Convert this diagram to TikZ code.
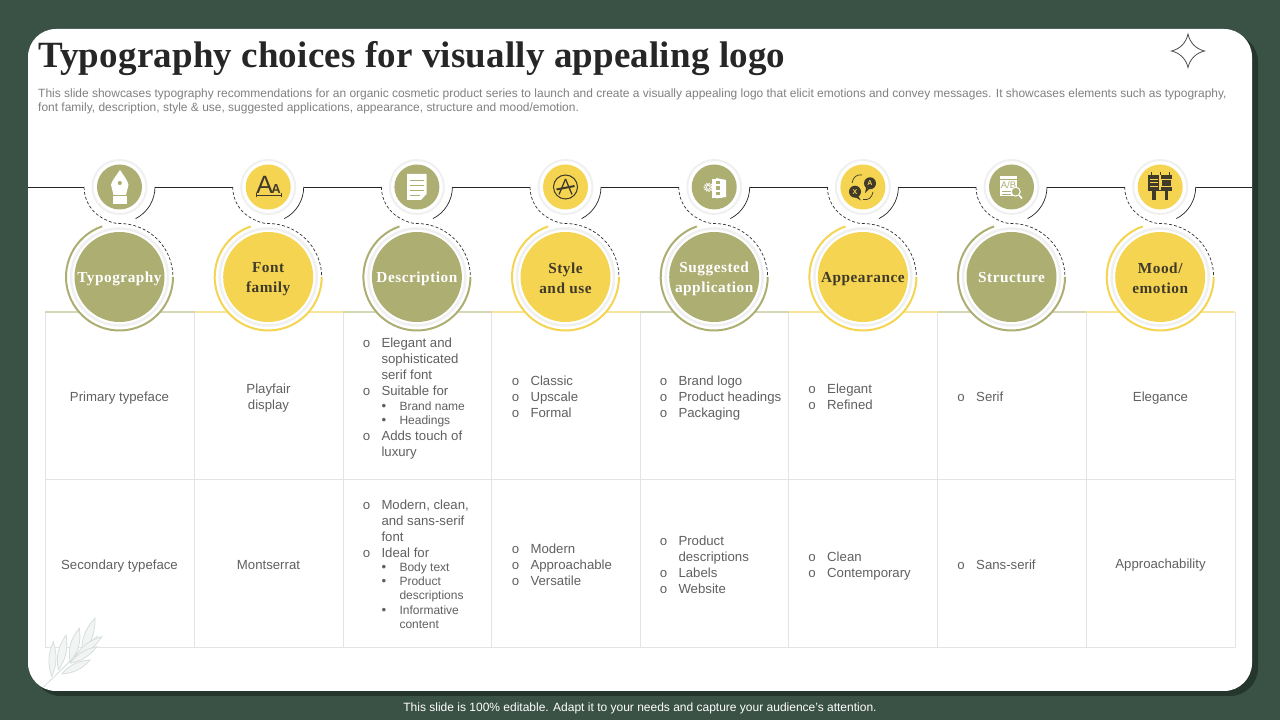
\documentclass[tikz,border=0pt]{standalone}
\usepackage{fontspec}
\setmainfont{Liberation Sans}
\newfontfamily\headfont[LetterSpace=3.4]{Liberation Serif}
\newfontfamily\titlefont[LetterSpace=0.45]{Liberation Serif}
\newfontfamily\markfont{Liberation Mono}
\definecolor{slidegreen}{HTML}{3A5145}
\definecolor{shadowgreen}{HTML}{25362D}
\definecolor{olive}{HTML}{ADAE72}
\definecolor{sun}{HTML}{F5D451}
\definecolor{inkdark}{HTML}{3F3A2A}
\definecolor{bodygray}{HTML}{606060}
\definecolor{leafgray}{HTML}{D5DFDC}
\newcommand{\lone}[1]{\makebox[19pt][l]{\markfont o}#1}
\newcommand{\lmore}[1]{\hspace*{19pt}#1}
\newcommand{\lsub}[1]{\hspace*{19pt}\makebox[18pt][l]{\textbullet}{\fontsize{12}{14}\selectfont #1}}
\newcommand{\lsubmore}[1]{\hspace*{37pt}{\fontsize{12}{14}\selectfont #1}}
\tikzset{
	basecirc/.style={circle, fill=white, inner sep=0pt, outer sep=0pt, minimum size=107pt},
	ringbig/.style={circle, draw=black!6, line width=2.5pt, fill=white, inner sep=0pt, minimum size=97pt},
	headolive/.style={circle, fill=olive, inner sep=0pt, minimum size=90pt},
	headsun/.style={circle, fill=sun, inner sep=0pt, minimum size=90pt},
	oliveword/.style={text=white, inner sep=0pt, yshift=-1.7pt, align=center, font=\headfont\bfseries\fontsize{15.3}{20}\selectfont},
	sunword/.style={text=inkdark, inner sep=0pt, yshift=-1.7pt, align=center, font=\headfont\bfseries\fontsize{15.3}{20}\selectfont},
	ringsmall/.style={circle, draw=black!6, line width=2pt, fill=white, inner sep=0pt, minimum size=54pt},
	iconolive/.style={circle, fill=olive, inner sep=0pt, minimum size=45pt},
	iconsun/.style={circle, fill=sun, inner sep=0pt, minimum size=45pt},
	halo/.style={circle, inner sep=0pt, outer sep=0pt, minimum size=71pt},
	blackline/.style={draw=black!85, line width=0.7pt},
	dashrun/.style={draw=black!80, line width=0.7pt, dash pattern=on 3pt off 2pt},
	loopback/.style={insert path={arc[start angle=180, end angle=243, radius=35.5] .. controls +(6,-3) and +(-6,0) .. ++(16.1,-4.9) arc[start angle=90, end angle=0, radius=53.5]}},
	arcolive/.style={draw=olive, line width=2pt},
	arcsun/.style={draw=sun, line width=2pt},
	gridline/.style={draw=black!11, line width=1pt},
	topolive/.style={draw=olive!50, line width=2pt},
	topsun/.style={draw=sun!60, line width=2pt},
	celltext/.style={text=bodygray, align=center, font=\fontsize{13.2}{16}\selectfont},
	listtext/.style={text=bodygray, align=left, anchor=west, inner sep=0pt, font=\fontsize{13.2}{16}\selectfont},
	leafline/.style={draw=leafgray, fill=leafgray!30, line width=0.8pt},
	whiteicon/.style={fill=white, draw=none},
	darkicon/.style={fill=inkdark, draw=none},
}
\begin{document}
\begin{tikzpicture}[x=1pt, y=1pt]
	\useasboundingbox (0,0) rectangle (1280,720);
	\fill[slidegreen] (0,0) rectangle (1280,720);
	\fill[shadowgreen, rounded corners=28pt] (33,24) rectangle (1258,686);
	\fill[white, rounded corners=28pt] (28,29) rectangle (1252,691);

	% title block
	\node[anchor=west, inner sep=0pt, text=black!85, font=\titlefont\bfseries\fontsize{37}{40}\selectfont] (Title) at (38,661) {Typography choices for visually appealing logo};
	\node[anchor=north west, inner sep=0pt, text=black!50, align=left, font=\fontsize{11.97}{14}\selectfont] (Intro) at (38,631) {This slide showcases typography recommendations for an organic cosmetic product series to launch and create a visually appealing logo that elicit emotions and convey messages. It showcases elements such as typography,\\font family, description, style \& use, suggested applications, appearance, structure and mood/emotion.};
	\node[text=white, inner sep=0pt, font=\fontsize{12}{14}\selectfont] (Foot) at (640,12) {This slide is 100\% editable. Adapt it to your needs and capture your audience's attention.};

	% star
	\draw[black!70, line width=0.8pt] (1188,686) .. controls (1190,677) and (1196,671) .. (1204.5,669) .. controls (1196,667) and (1190,661) .. (1188,652.5) .. controls (1186,661) and (1180,667) .. (1171.5,669) .. controls (1180,671) and (1186,677) .. (1188,686) -- cycle;

	% table
	\draw[gridline] (45.5,72) -- (1235,72);
	\draw[gridline] (45.5,240) -- (1235,240);
	\draw[gridline] (45.5,408) -- (45.5,72);
	\draw[gridline] (194.5,408) -- (194.5,72);
	\draw[gridline] (343,408) -- (343,72);
	\draw[gridline] (491.5,408) -- (491.5,72);
	\draw[gridline] (640,408) -- (640,72);
	\draw[gridline] (788.5,408) -- (788.5,72);
	\draw[gridline] (937.5,408) -- (937.5,72);
	\draw[gridline] (1086,408) -- (1086,72);
	\draw[gridline] (1235,408) -- (1235,72);
	\draw[topolive] (45,408) -- (194.5,408);
	\draw[topsun] (194.5,408) -- (343,408);
	\draw[topolive] (343,408) -- (491.5,408);
	\draw[topsun] (491.5,408) -- (640,408);
	\draw[topolive] (640,408) -- (788.5,408);
	\draw[topsun] (788.5,408) -- (937.5,408);
	\draw[topolive] (937.5,408) -- (1086,408);
	\draw[topsun] (1086,408) -- (1235,408);

	% first row
	\node[celltext] (A1) at (119.5,322) {Primary typeface};
	\node[celltext] (A2) at (268.5,322) {Playfair\\display};
	\node[listtext] (A3) at (362.3,321.5) {\lone{Elegant and}\\\lmore{sophisticated}\\\lmore{serif font}\\\lone{Suitable for}\\[-1.5pt]\lsub{Brand name}\\[-2pt]\lsub{Headings}\\\lone{Adds touch of}\\\lmore{luxury}};
	\node[listtext] (A4) at (511.3,323) {\lone{Classic}\\\lone{Upscale}\\\lone{Formal}};
	\node[listtext] (A5) at (659.3,322) {\lone{Brand logo}\\\lone{Product headings}\\\lone{Packaging}};
	\node[listtext] (A6) at (808,323) {\lone{Elegant}\\\lone{Refined}};
	\node[listtext] (A7) at (957,323) {\lone{Serif}};
	\node[celltext] (A8) at (1160.5,321.5) {Elegance};

	% second row
	\node[celltext] (B1) at (119.5,153.5) {Secondary typeface};
	\node[celltext] (B2) at (268.5,155) {Montserrat};
	\node[listtext] (B3) at (362.3,156) {\lone{Modern, clean,}\\\lmore{and sans-serif}\\\lmore{font}\\\lone{Ideal for}\\[-1.5pt]\lsub{Body text}\\[-2pt]\lsub{Product}\\[-2pt]\lsubmore{descriptions}\\[-1.5pt]\lsub{Informative}\\[-2pt]\lsubmore{content}};
	\node[listtext] (B4) at (511.3,155) {\lone{Modern}\\\lone{Approachable}\\\lone{Versatile}};
	\node[listtext] (B5) at (659.3,155) {\lone{Product}\\\lmore{descriptions}\\\lone{Labels}\\\lone{Website}};
	\node[listtext] (B6) at (808,154) {\lone{Clean}\\\lone{Contemporary}};
	\node[listtext] (B7) at (957,155) {\lone{Sans-serif}};
	\node[celltext] (B8) at (1160.5,154.5) {Approachability};

	% big heading circles
	\node[basecirc] (K1) at (119.5,443) {};
	\node[basecirc] (K2) at (268.2,443) {};
	\node[basecirc] (K3) at (416.9,443) {};
	\node[basecirc] (K4) at (565.5,443) {};
	\node[basecirc] (K5) at (714.2,443) {};
	\node[basecirc] (K6) at (862.9,443) {};
	\node[basecirc] (K7) at (1011.5,443) {};
	\node[basecirc] (K8) at (1160.2,443) {};
	\node[ringbig] (N1) at (K1) {};
	\node[ringbig] (N2) at (K2) {};
	\node[ringbig] (N3) at (K3) {};
	\node[ringbig] (N4) at (K4) {};
	\node[ringbig] (N5) at (K5) {};
	\node[ringbig] (N6) at (K6) {};
	\node[ringbig] (N7) at (K7) {};
	\node[ringbig] (N8) at (K8) {};
	\node[headolive, label={[oliveword]center:Typography}] (T1) at (K1) {};
	\node[headsun, label={[sunword]center:{Font\\family}}] (T2) at (K2) {};
	\node[headolive, label={[oliveword]center:Description}] (T3) at (K3) {};
	\node[headsun, label={[sunword]center:{Style\\and use}}] (T4) at (K4) {};
	\node[headolive, label={[oliveword]center:{Suggested\\application}}] (T5) at (K5) {};
	\node[headsun, label={[sunword]center:Appearance}] (T6) at (K6) {};
	\node[headolive, label={[oliveword, yshift=1pt]center:Structure}] (T7) at (K7) {};
	\node[headsun, label={[sunword]center:{Mood/\\emotion}}] (T8) at (K8) {};
	\draw[arcolive] (K1.109) arc[start angle=109, end angle=360, radius=53.5];
	\draw[arcsun] (K2.109) arc[start angle=109, end angle=360, radius=53.5];
	\draw[arcolive] (K3.109) arc[start angle=109, end angle=360, radius=53.5];
	\draw[arcsun] (K4.109) arc[start angle=109, end angle=360, radius=53.5];
	\draw[arcolive] (K5.109) arc[start angle=109, end angle=360, radius=53.5];
	\draw[arcsun] (K6.109) arc[start angle=109, end angle=360, radius=53.5];
	\draw[arcolive] (K7.109) arc[start angle=109, end angle=360, radius=53.5];
	\draw[arcsun] (K8.109) arc[start angle=109, end angle=360, radius=53.5];

	% small icon circles
	\node[halo] (O1) at (119.5,533) {};
	\node[halo] (O2) at (268.2,533) {};
	\node[halo] (O3) at (416.9,533) {};
	\node[halo] (O4) at (565.5,533) {};
	\node[halo] (O5) at (714.2,533) {};
	\node[halo] (O6) at (862.9,533) {};
	\node[halo] (O7) at (1011.5,533) {};
	\node[halo] (O8) at (1160.2,533) {};
	\node[ringsmall] (R1) at (O1) {};
	\node[ringsmall] (R2) at (O2) {};
	\node[ringsmall] (R3) at (O3) {};
	\node[ringsmall] (R4) at (O4) {};
	\node[ringsmall] (R5) at (O5) {};
	\node[ringsmall] (R6) at (O6) {};
	\node[ringsmall] (R7) at (O7) {};
	\node[ringsmall] (R8) at (O8) {};
	\node[iconolive] (I1) at (O1) {};
	\node[iconsun] (I2) at (O2) {};
	\node[iconolive] (I3) at (O3) {};
	\node[iconsun] (I4) at (O4) {};
	\node[iconolive] (I5) at (O5) {};
	\node[iconsun] (I6) at (O6) {};
	\node[iconolive] (I7) at (O7) {};
	\node[iconsun] (I8) at (O8) {};

	% black line through the icons
	\coordinate (LS) at (28,533);
	\coordinate (LE) at (1252,533);
	\draw[blackline] (LS) -- (O1.west);
	\draw[blackline] (O1.east) -- (O2.west);
	\draw[blackline] (O2.east) -- (O3.west);
	\draw[blackline] (O3.east) -- (O4.west);
	\draw[blackline] (O4.east) -- (O5.west);
	\draw[blackline] (O5.east) -- (O6.west);
	\draw[blackline] (O6.east) -- (O7.west);
	\draw[blackline] (O7.east) -- (O8.west);
	\draw[blackline] (O8.east) -- (LE);
	\draw[blackline] (O1.east) arc[start angle=0, end angle=-63, radius=35.5];
	\draw[blackline] (O2.east) arc[start angle=0, end angle=-63, radius=35.5];
	\draw[blackline] (O3.east) arc[start angle=0, end angle=-63, radius=35.5];
	\draw[blackline] (O4.east) arc[start angle=0, end angle=-63, radius=35.5];
	\draw[blackline] (O5.east) arc[start angle=0, end angle=-63, radius=35.5];
	\draw[blackline] (O6.east) arc[start angle=0, end angle=-63, radius=35.5];
	\draw[blackline] (O7.east) arc[start angle=0, end angle=-63, radius=35.5];
	\draw[blackline] (O8.east) arc[start angle=0, end angle=-63, radius=35.5];
	\draw[dashrun] (O1.west) [loopback];
	\draw[dashrun] (O2.west) [loopback];
	\draw[dashrun] (O3.west) [loopback];
	\draw[dashrun] (O4.west) [loopback];
	\draw[dashrun] (O5.west) [loopback];
	\draw[dashrun] (O6.west) [loopback];
	\draw[dashrun] (O7.west) [loopback];
	\draw[dashrun] (O8.west) [loopback];

	% pen nib
	\fill[whiteicon, even odd rule] (120,550) .. controls (124,544) and (128.5,538) .. (128.5,535) -- (126,525) -- (113.5,525) -- (111,535) .. controls (111,538) and (116,544) .. (120,550) -- cycle (119.8,537) circle (2.2);
	\fill[whiteicon] (112.5,523.5) rectangle (127,516);

	% letters
	\node[inner sep=0pt, text=inkdark, font=\fontsize{25}{25}\selectfont] (Ab) at (264.7,535.5) {A};
	\node[inner sep=0pt, text=inkdark, font=\bfseries\fontsize{13}{13}\selectfont] (As) at (276,531) {A};
	\draw[inkdark, line width=1.2pt] (256,524.5) -- (281,524.5);
	\draw[inkdark, line width=0.8pt] (256,522.5) -- (256,526.5);
	\draw[inkdark, line width=0.8pt] (281,522.5) -- (281,526.5);

	% document
	\fill[whiteicon] (407,546) -- (426.5,546) -- (426.5,526) -- (421,520) -- (407,520) -- cycle;
	\draw[olive, line width=0.9pt] (410,540) -- (423.5,540);
	\draw[olive, line width=0.9pt] (410,535) -- (423.5,535);
	\draw[olive, line width=0.9pt] (410,530) -- (423.5,530);
	\draw[olive, line width=0.9pt] (410,525) -- (420,525);

	% compass badge
	\draw[inkdark, line width=1pt] (565.5,533) circle (12);
	\draw[inkdark, line width=1.3pt] (559,525.5) -- (565.5,541);
	\draw[inkdark, line width=1.3pt] (572,525.5) -- (565.5,541);
	\draw[inkdark, line width=2pt] (556.5,530.5) -- (574.5,534);

	% phones and gear
	\fill[whiteicon] (716,542) -- (726,540) -- (726,523) -- (716,521.5) -- cycle;
	\fill[whiteicon] (712,541) rectangle (722,522);
	\fill[olive] (716,535.5) rectangle (720,539);
	\fill[olive] (716,530) rectangle (720,533.5);
	\fill[olive] (716,524.5) rectangle (720,528);
	\draw[white, line width=1.8pt, dash pattern=on 1.2pt off 1pt] (708.3,532.7) circle (3.8);
	\draw[white, line width=0.8pt] (708.3,532.7) circle (2);

	% speech bubbles
	\fill[darkicon] (870,536.7) circle (6);
	\fill[darkicon] (866,532) -- (869,531) -- (865,527) -- cycle;
	\fill[darkicon] (855,528.3) circle (6);
	\fill[darkicon] (858,524) -- (855,523) -- (861,519.5) -- cycle;
	\node[inner sep=0pt, text=sun, font=\bfseries\fontsize{7}{7}\selectfont] (SA) at (870,536.7) {A};
	\node[inner sep=0pt, text=sun, font=\bfseries\fontsize{7}{7}\selectfont] (SX) at (855,528.3) {X};
	\draw[inkdark, line width=0.7pt] (852,537) .. controls (853,543) and (857,546) .. (862,545);
	\draw[inkdark, line width=0.7pt] (873,528) .. controls (872,522) and (868,519.5) .. (863,520.5);

	% window and magnifier
	\fill[whiteicon] (1000,544) rectangle (1017,523.5);
	\draw[olive, line width=0.7pt] (1000,541) -- (1017,541);
	\node[inner sep=0pt, text=olive, font=\fontsize{9.5}{9.5}\selectfont] (AB) at (1008.5,535) {A/B};
	\draw[olive, line width=0.8pt] (1002,528.5) -- (1011,528.5);
	\draw[olive, line width=0.8pt] (1002,525.5) -- (1011,525.5);
	\draw[white, fill=olive, line width=1pt] (1015.7,528.3) circle (4.5);
	\draw[white, line width=1.6pt] (1019,525) -- (1022,521.5);

	% billboard
	\fill[darkicon] (1147.7,545) rectangle (1172.3,529);
	\fill[darkicon] (1152.3,529) rectangle (1155.7,520);
	\fill[darkicon] (1165,529) rectangle (1168.3,520);
	\draw[inkdark, line width=1pt] (1151,545) -- (1151,547.5);
	\draw[inkdark, line width=1pt] (1160,545) -- (1160,547.5);
	\draw[inkdark, line width=1pt] (1169,545) -- (1169,547.5);
	\fill[sun] (1159,529.5) rectangle (1160.5,545);
	\draw[sun, line width=1pt] (1161.5,533) rectangle (1171,540.5);
	\draw[sun, line width=0.7pt] (1149.5,541) -- (1157.5,541);
	\draw[sun, line width=0.7pt] (1149.5,537.5) -- (1157.5,537.5);
	\draw[sun, line width=0.7pt] (1149.5,534) -- (1157.5,534);

	% leaf
	\draw[leafline] (43.5,33) -- (57,46) -- (72,61) -- (82,72) -- (98,84);
	\draw[leafline] (81.7,66.7) to[bend left=22] (95,101.7) to[bend left=22] (81.7,66.7);
	\draw[leafline] (70,58.3) to[bend left=24] (79.3,91.7) to[bend left=24] (70,58.3);
	\draw[leafline] (58.3,50) to[bend left=22] (66,85) to[bend left=22] (58.3,50);
	\draw[leafline] (51.7,43.3) to[bend left=20] (53.3,78.3) to[bend left=20] (51.7,43.3);
	\draw[leafline] (75,63.3) to[bend left=20] (101.7,83.3) to[bend left=20] (75,63.3);
	\draw[leafline] (70,56.7) to[bend left=20] (96.7,73.3) to[bend left=20] (70,56.7);
	\draw[leafline] (61.7,46) to[bend left=22] (90,60) to[bend left=22] (61.7,46);
\end{tikzpicture}
\end{document}
